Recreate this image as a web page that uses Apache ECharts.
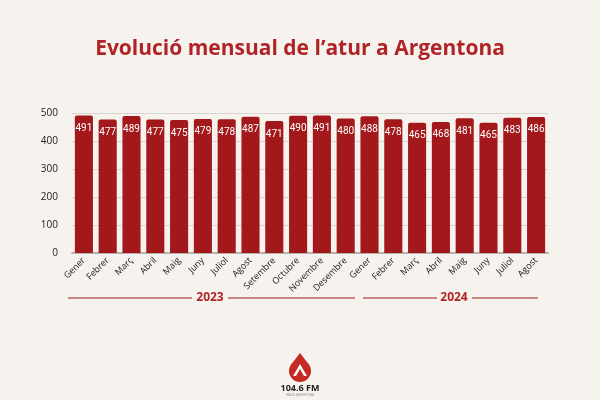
<!DOCTYPE html>
<html>
<head>
<meta charset="utf-8">
<script src="https://cdn.jsdelivr.net/npm/echarts@6/dist/echarts.min.js"></script>
<style>html,body{margin:0;padding:0;background:#f6f3ee;}#c{width:600px;height:400px;}</style>
</head>
<body>
<div id="c"></div>
<script>
const categories = ['Gener','Febrer','Març','Abril','Maig','Juny','Juliol','Agost','Setembre','Octubre','Novembre','Desembre',
                    'Gener','Febrer','Març','Abril','Maig','Juny','Juliol','Agost'];
const values = [491,477,489,477,475,479,478,487,471,490,491,480,
                488,478,465,468,481,465,483,486];
const yearLabels = ['2023','2024'];
const yTicks = [0,100,200,300,400,500];

const red = '#a3191b';
const lineCol = '#c98683';
const chart = echarts.init(document.getElementById('c'));
chart.setOption({
  backgroundColor: '#f6f3ee',
  title: {
    text: 'Evolució mensual de l’atur a Argentona',
    left: 'center', top: 34,
    textStyle: {color: '#b02427', fontSize: 21, fontWeight: 'bold', fontFamily: 'Open Sans'}
  },
  grid: {left: 72, right: 52, top: 113, bottom: 147},
  xAxis: {
    type: 'category', data: categories,
    axisTick: {show: false},
    axisLine: {lineStyle: {color: '#b5b2ad', width: 2}},
    axisLabel: {rotate: 45, color: '#222', fontSize: 9, margin: 6, interval: 0, fontFamily: 'Open Sans'}
  },
  yAxis: {
    type: 'value', min: yTicks[0], max: yTicks[yTicks.length-1], interval: 100,
    axisLine: {show: false}, axisTick: {show: false},
    axisLabel: {color: '#222', fontSize: 10, margin: 14, fontFamily: 'Open Sans'},
    splitLine: {lineStyle: {color: '#d8d5d0', width: 1}}
  },
  series: [{
    type: 'bar', data: values, barCategoryGap: '24%',
    itemStyle: {color: red, borderRadius: [2,2,0,0]},
    label: {show: true, position: 'insideTop', distance: 8, color: '#fff', fontSize: 10, fontFamily: 'Roboto'}
  }],
  graphic: [
    {type: 'line', shape: {x1: 68, y1: 298, x2: 192, y2: 298}, style: {stroke: lineCol, lineWidth: 2}},
    {type: 'line', shape: {x1: 228, y1: 298, x2: 355, y2: 298}, style: {stroke: lineCol, lineWidth: 2}},
    {type: 'text', x: 210, y: 298, style: {text: yearLabels[0], fill: '#b02427', font: 'bold 12px "Open Sans"', textAlign: 'center', textVerticalAlign: 'middle'}},
    {type: 'line', shape: {x1: 363, y1: 298, x2: 437, y2: 298}, style: {stroke: lineCol, lineWidth: 2}},
    {type: 'line', shape: {x1: 472, y1: 298, x2: 538, y2: 298}, style: {stroke: lineCol, lineWidth: 2}},
    {type: 'text', x: 454, y: 298, style: {text: yearLabels[1], fill: '#b02427', font: 'bold 12px "Open Sans"', textAlign: 'center', textVerticalAlign: 'middle'}},
    {type: 'circle', shape: {cx: 300, cy: 371, r: 11}, style: {fill: '#c42a22'}},
    {type: 'polygon', shape: {points: [[300, 353], [309.5, 365.5], [290.5, 365.5]]}, style: {fill: '#c42a22'}},
    {type: 'polygon', shape: {points: [[293, 376], [300, 364], [307, 376], [304, 376], [300, 369], [296, 376]]}, style: {fill: '#fff'}},
    {type: 'text', x: 300, y: 388, style: {text: '104.6 FM', fill: '#222', font: 'bold 9px "Open Sans"', textAlign: 'center', textVerticalAlign: 'middle'}},
    {type: 'text', x: 300, y: 395, style: {text: 'RÀDIO ARGENTONA', fill: '#888', font: '3px "Open Sans"', textAlign: 'center', textVerticalAlign: 'middle'}}
  ]
});
</script>
</body>
</html>
